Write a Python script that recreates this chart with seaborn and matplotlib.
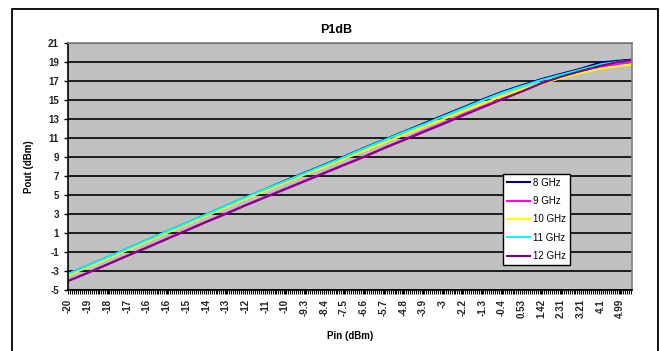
import pandas as pd
import matplotlib
matplotlib.use('Agg')
import matplotlib.pyplot as plt
import seaborn as sns
from matplotlib.patches import Rectangle
from matplotlib.ticker import AutoMinorLocator, FixedLocator

# Pin values (category axis), last point is the unlabeled end of the axis
pin = [-20, -19.11, -18.21, -17.32, -16.43, -15.54, -14.64, -13.75, -12.86, -11.97,
       -11.08, -10.18, -9.29, -8.4, -7.51, -6.61, -5.72, -4.83, -3.94, -3.05,
       -2.15, -1.26, -0.37, 0.53, 1.42, 2.31, 3.21, 4.1, 4.99, 5.52]

tick_labels = ['-20', '-19', '-18', '-17', '-16', '-16', '-15', '-14', '-13', '-12',
               '-11', '-10', '-9.3', '-8.4', '-7.5', '-6.6', '-5.7', '-4.8', '-3.9', '-3',
               '-2.2', '-1.3', '-0.4', '0.53', '1.42', '2.31', '3.21', '4.1', '4.99']

# Pout (dBm) per frequency
pout_8 = [-3.3, -2.45, -1.55, -0.65, 0.25, 1.15, 2.05, 2.95, 3.85, 4.75,
          5.6, 6.5, 7.35, 8.2, 9.05, 9.95, 10.8, 11.65, 12.5, 13.35,
          14.2, 15.05, 15.85, 16.55, 17.2, 17.75, 18.3, 18.95, 19.15, 19.25]
pout_9 = [-4.05, -3.2, -2.3, -1.4, -0.5, 0.4, 1.3, 2.2, 3.05, 3.95,
          4.8, 5.65, 6.5, 7.35, 8.2, 9.05, 9.95, 10.8, 11.7, 12.55,
          13.45, 14.3, 15.1, 15.9, 16.8, 17.4, 17.95, 18.45, 18.8, 18.95]
pout_10 = [-3.45, -2.6, -1.7, -0.8, 0.1, 1.0, 1.9, 2.8, 3.7, 4.6,
           5.45, 6.3, 7.15, 7.95, 8.8, 9.65, 10.5, 11.3, 12.15, 12.95,
           13.8, 14.6, 15.4, 16.1, 16.7, 17.3, 17.85, 18.3, 18.6, 18.75]
pout_11 = [-3.3, -2.45, -1.55, -0.65, 0.25, 1.15, 2.05, 2.95, 3.85, 4.75,
           5.6, 6.45, 7.3, 8.15, 9.0, 9.9, 10.75, 11.6, 12.4, 13.25,
           14.1, 14.95, 15.75, 16.45, 17.1, 17.65, 18.2, 18.75, 19.05, 19.15]
pout_12 = [-4.05, -3.2, -2.3, -1.4, -0.55, 0.35, 1.25, 2.15, 3.0, 3.9,
           4.75, 5.6, 6.45, 7.3, 8.15, 9.0, 9.9, 10.75, 11.6, 12.45,
           13.35, 14.2, 15.05, 15.9, 16.75, 17.45, 18.05, 18.6, 19.05, 19.2]

series = {'8 GHz': pout_8, '9 GHz': pout_9, '10 GHz': pout_10,
          '11 GHz': pout_11, '12 GHz': pout_12}
colors = ['#000080', '#FF00FF', '#FFFF00', '#00FFFF', '#800080']

# Long format for seaborn
frames = []
for name, vals in series.items():
    frames.append(pd.DataFrame({'Pin': pin, 'Pout': vals, 'Freq': name}))
df = pd.concat(frames)

plt.rcParams['font.family'] = ['Liberation Sans', 'DejaVu Sans']
plt.rcParams['axes.unicode_minus'] = False

fig = plt.figure(figsize=(6.6, 3.51), dpi=100)
ax = fig.add_axes([68 / 660, 1 - 290 / 351, (632 - 68) / 660, (290 - 43) / 351])

sns.lineplot(data=df, x='Pin', y='Pout', hue='Freq', palette=colors,
             estimator=None, sort=False, linewidth=1.5, ax=ax)

ax.set_facecolor('#C0C0C0')
ax.set_xlim(-20, 5.52)
ax.set_ylim(-5, 21)
ax.set_yticks(range(-5, 22, 2))
ax.yaxis.grid(True, color='black', linewidth=1.2)
ax.set_axisbelow(True)
ax.xaxis.set_major_locator(FixedLocator(pin[:29]))
ax.set_xticklabels(tick_labels, rotation=90)
ax.xaxis.set_minor_locator(AutoMinorLocator(10))
ax.tick_params(axis='x', which='both', direction='out', length=3, width=0.8, color='black')
ax.tick_params(axis='y', direction='out', length=3, width=1, color='black')
for lab in ax.get_xticklabels() + ax.get_yticklabels():
    lab.set_fontsize(7)
    lab.set_fontweight('bold')
    lab.set_color('#222222')

for side in ['top', 'right']:
    ax.spines[side].set_color('#808080')
    ax.spines[side].set_linewidth(1.2)
for side in ['left', 'bottom']:
    ax.spines[side].set_color('black')
    ax.spines[side].set_linewidth(1.2)

ax.set_xlabel('')
ax.set_ylabel('')
fig.text(336 / 660, 1 - 30 / 351, 'P1dB', ha='center', va='center',
         fontsize=9, fontweight='bold')
fig.text(350 / 660, 1 - 336 / 351, 'Pin (dBm)', ha='center', va='center',
         fontsize=7, fontweight='bold')
fig.text(29 / 660, 1 - 167 / 351, 'Pout (dBm)', ha='center', va='center',
         rotation=90, fontsize=7, fontweight='bold')

leg = ax.legend(loc='upper left', bbox_to_anchor=(503 / 660, 1 - 174 / 351),
                bbox_transform=fig.transFigure, frameon=True, fancybox=False,
                fontsize=7, handlelength=2.4, handletextpad=0.3, labelspacing=0.85,
                borderpad=0.4, borderaxespad=0)
leg.get_frame().set_edgecolor('black')
leg.get_frame().set_linewidth(1.0)
leg.get_frame().set_facecolor('white')
leg.get_frame().set_alpha(1)

# chart area border
fig.patches.append(Rectangle((12 / 660, -0.02), (658 - 12) / 660, 1 - 9 / 351 + 0.02,
                             transform=fig.transFigure, fill=False,
                             edgecolor='black', linewidth=1.3))

fig.savefig('out.png', dpi=100)
